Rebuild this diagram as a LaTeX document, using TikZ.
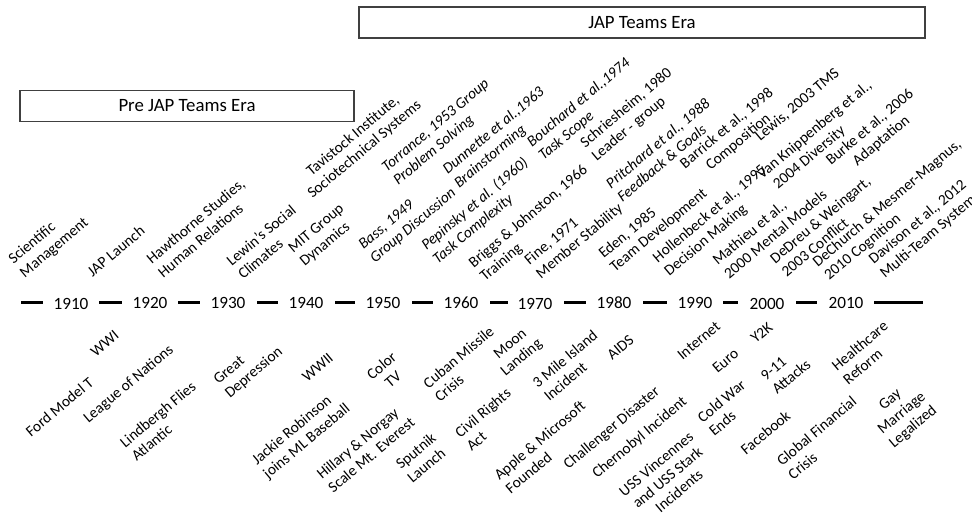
\documentclass[tikz,border=0pt]{standalone}
\usepackage{fontspec}
\setmainfont{Carlito}
\begin{document}
\begin{tikzpicture}[x=0.75pt,y=-0.75pt,
  lab/.style={font=\fontsize{11.5}{13.3}\selectfont, rotate=40, inner sep=0pt, align=left, anchor=west},
  labc/.style={lab, align=center, anchor=center},
  itl/.style={lab, font=\fontsize{11.5}{13.3}\selectfont\itshape},
  yr/.style={font=\fontsize{12.9}{15}\selectfont, inner sep=0pt},
  seg/.style={line width=2.3pt},
  era/.style={draw=black!75, line width=0.8pt, font=\fontsize{14.1}{16}\selectfont, inner sep=0pt, minimum height=23.25pt}]
\useasboundingbox (0,0) rectangle (972,514);

% era boxes
\node[era, minimum width=250.5pt] (pre) at (187,106) {Pre JAP Teams Era};
\node[era, minimum width=424.5pt] (jap) at (642,22.5) {JAP Teams Era};

% timeline
\node[yr] (y1910) at (71,304) {1910};
\node[yr] (y1920) at (150,302.5) {1920};
\node[yr] (y1930) at (228,302.5) {1930};
\node[yr] (y1940) at (306,302.5) {1940};
\node[yr] (y1950) at (383,302.5) {1950};
\node[yr] (y1960) at (461,302.5) {1960};
\node[yr] (y1970) at (535,304) {1970};
\node[yr] (y1980) at (614,302.5) {1980};
\node[yr] (y1990) at (695,302.5) {1990};
\node[yr] (y2000) at (767,303.5) {2000};
\node[yr] (y2010) at (846,303) {2010};
\foreach \a/\b in {21/43,99/122,178/200,257/278,335/355,412/433,490/508,564/586,643/667,723/738,796/817,874/923}
  \draw[seg] (\a,302.5) -- (\b,302.5);

% top labels
\node[lab] (t1) at (16.5,268.4) {Scientific\\Management};
\node[lab] (t2) at (89,273.4) {JAP Launch};
\node[lab] (t3) at (154,267.5) {Hawthorne Studies,\\Human Relations};
\node[lab] (t4) at (234,269.2) {Lewin’s Social\\Climates};
\node[lab] (t5) at (296.5,257.5) {MIT Group\\Dynamics};
\node[labc] (t6) at (359,143) {Tavistock Institute,\\Sociotechnical Systems};
\node[itl] (t7) at (366.7,253.7) {Bass, 1949\\Group Discussion};
\node[itl] (t8) at (390,176.2) {Torrance, 1953 Group\\Problem Solving};
\node[itl] (t9) at (450.8,178.7) {Dunnette et al.,1963\\Brainstorming};
\node[itl] (t10) at (429.2,254.5) {Pepinsky et al. (1960)\\Task Complexity};
\node[itl] (t11) at (535,151.2) {Bouchard et al.,1974\\Task Scope};
\node[lab] (t12) at (476.7,272) {Briggs \& Johnston, 1966\\Training};
\node[lab] (t13) at (532.5,269.5) {Fine, 1971\\Member Stability};
\node[lab] (t14) at (588.3,152) {Schriesheim, 1980\\Leader - group};
\node[itl] (t15) at (613.3,192) {Pritchard et al., 1988\\Feedback \& Goals};
\node[lab] (t16) at (606.7,262.8) {Eden, 1985\\Team Development};
\node[labc] (t17) at (732.7,135.4) {Barrick et al., 1998\\Composition};
\node[lab] (t18) at (660.8,267) {Hollenbeck et al., 1995\\Decision Making};
\node[lab] (t19) at (757.5,138.7) {Lewis, 2003 TMS};
\node[lab] (t20) at (765,183.5) {Van Knippenberg et al.,\\\hspace*{4.5pt}2004 Diversity};
\node[lab] (t21) at (720,268.7) {Mathieu et al.,\\2000 Mental Models};
\node[labc] (t22) at (875.8,134.3) {Burke et al., 2006\\Adaptation};
\node[lab] (t23) at (777.5,267) {DeDreu \& Weingart,\\2003 Conflict};
\node[lab] (t24) at (820.8,271.2) {DeChurch \& Mesmer-Magnus,\\2010 Cognition};
\node[lab] (t25) at (876.7,268.7) {Davison et al., 2012\\Multi-Team Systems};

% bottom labels
\node[lab] (b1) at (92.5,353.7) {WWI};
\node[lab] (b2) at (27.5,433.7) {Ford Model T};
\node[lab] (b3) at (85.8,420.3) {League of Nations};
\node[lab] (b4) at (127.5,451.2) {Lindbergh Flies\\Atlantic};
\node[lab] (b5) at (221.7,388.7) {Great\\Depression};
\node[lab] (b6) at (304,378.7) {WWII};
\node[lab] (b7) at (260,469.5) {Jackie Robinson\\joins ML Baseball};
\node[labc] (b8) at (387.1,372.3) {Color\\TV};
\node[lab] (b9) at (324.2,482.8) {Hillary \& Norgay\\Scale Mt. Everest};
\node[lab] (b10) at (403.3,472.8) {Sputnik\\Launch};
\node[lab] (b11) at (430.8,392) {Cuban Missile\\Crisis};
\node[lab] (b12) at (462.5,441.2) {Civil Rights\\Act};
\node[labc] (b13) at (516.3,351.4) {Moon\\Landing};
\node[lab] (b14) at (540,391.2) {3 Mile Island\\Incident};
\node[lab] (b15) at (501.7,483.7) {Apple \& Microsoft\\Founded};
\node[lab] (b16) at (609,357) {AIDS};
\node[lab] (b17) at (565.8,467) {Challenger Disaster};
\node[lab] (b18) at (594.5,476) {Chernobyl Incident};
\node[labc] (b19) at (667.5,477.3) {USS Vincennes\\and USS Stark\\Incidents};
\node[lab] (b20) at (705,426.2) {Cold War\\Ends};
\node[lab] (b21) at (679.2,357) {Internet};
\node[lab] (b22) at (714.2,370.3) {Euro};
\node[lab] (b23) at (752.5,340.3) {Y2K};
\node[lab] (b24) at (768.3,384.5) {9-11\\Attacks};
\node[lab] (b25) at (742.5,452) {Facebook};
\node[lab] (b26) at (784.2,469.5) {Global Financial\\Crisis};
\node[lab] (b27) at (839.2,374.5) {Healthcare\\Reform};
\node[labc] (b28) at (902,413.7) {Gay\\Marriage\\Legalized};
\end{tikzpicture}
\end{document}
